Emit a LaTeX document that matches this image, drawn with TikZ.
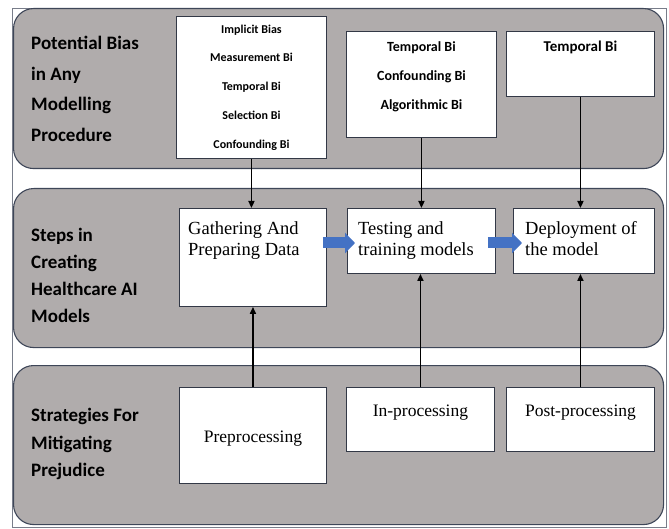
\documentclass[tikz,border=0pt]{standalone}
\usepackage{fontspec}
\setmainfont{Liberation Serif}
\newfontfamily\calibri{Carlito}
\usepackage{tikz}
\usetikzlibrary{arrows.meta, positioning, calc}
\usepackage{xcolor}
\definecolor{bandgray}{RGB}{176,172,172}
\definecolor{edgeblue}{RGB}{62,70,88}
\definecolor{flowblue}{RGB}{68,114,196}

\begin{document}
\begin{tikzpicture}[x=1pt, y=-1pt,
            band/.style={rectangle, draw=edgeblue, line width=1.1pt, fill=bandgray, rounded corners=20pt, anchor=north west, minimum width=650pt},
            bandtext/.style={anchor=west, align=left, inner sep=0pt, font=\calibri\bfseries\fontsize{19}{27}\selectfont},
            box/.style={rectangle, draw=edgeblue!80!black, line width=0.9pt, fill=white, anchor=north west},
            biastext/.style={align=center, inner sep=0pt, font=\calibri\bfseries},
            steptext/.style={anchor=north west, align=left, inner sep=0pt, font=\fontsize{18.5}{21}\selectfont},
            strattext/.style={inner sep=0pt, font=\fontsize{17.5}{21}\selectfont},
            conn/.style={-{Triangle[length=7pt, width=6pt]}, line width=1.6pt, black},
            flow/.style={-{Triangle[length=10pt, width=20pt]}, line width=11pt, flowblue}]

        \useasboundingbox (0,0) rectangle (669,529);
        \draw[edgeblue!70, line width=0.6pt] (12,8) rectangle (666,527);

        % Bands
        \node[band, minimum height=160pt] (biasband) at (13,8) {};
        \node[band, minimum height=159pt] (stepband) at (13,188) {};
        \node[band, minimum height=159pt] (stratband) at (13,365) {};

        \node[bandtext, font=\calibri\bfseries\fontsize{19}{30.7}\selectfont] (biaslabel) at (31,89) {Potential Bias\\in Any\\Modelling\\Procedure};
        \node[bandtext] (steplabel) at (31,275) {Steps in\\Creating\\Healthcare AI\\Models};
        \node[bandtext, font=\calibri\bfseries\fontsize{19}{27.5}\selectfont] (stratlabel) at (31,444) {Strategies For\\Mitigating\\Prejudice};

        % Potential bias boxes
        \node[box, minimum width=150pt, minimum height=142pt] (bias1) at (176,16) {};
        \node[box, minimum width=150pt, minimum height=106pt] (bias2) at (346,31) {};
        \node[box, minimum width=148pt, minimum height=65pt] (bias3) at (506,31) {};

        \node[biastext, font=\calibri\bfseries\fontsize{12}{28.7}\selectfont] (bias1text) at (bias1.center) {Implicit Bias\\Measurement Bi\\Temporal Bi\\Selection Bi\\Confounding Bi};
        \node[biastext, anchor=north, font=\calibri\bfseries\fontsize{14}{29}\selectfont] (bias2text) at ([yshift=-10pt]bias2.north) {Temporal Bi\\Confounding Bi\\Algorithmic Bi};
        \node[biastext, anchor=north, font=\calibri\bfseries\fontsize{15}{29}\selectfont] (bias3text) at ([yshift=-10pt]bias3.north) {Temporal Bi};

        % Steps boxes
        \node[box, minimum width=147pt, minimum height=98pt] (gather) at (179,208) {};
        \node[box, minimum width=148pt, minimum height=65pt] (train) at (347,208) {};
        \node[box, minimum width=141pt, minimum height=65pt] (deploy) at (513,208) {};

        \node[steptext] (gathertext) at ([shift={(9,13)}]gather.north west) {Gathering And\\Preparing Data};
        \node[steptext] (traintext) at ([shift={(11,13)}]train.north west) {Testing and\\training models};
        \node[steptext] (deploytext) at ([shift={(12,13)}]deploy.north west) {Deployment of\\the model};

        % Strategy boxes
        \node[box, minimum width=147pt, minimum height=96pt] (preproc) at (179,387) {};
        \node[box, minimum width=148pt, minimum height=64pt] (inproc) at (346,387) {};
        \node[box, minimum width=148pt, minimum height=64pt] (postproc) at (506,387) {};

        \node[strattext] (preproctext) at ([yshift=-3pt]preproc.center) {Preprocessing};
        \node[strattext] (inproctext) at ([yshift=-26pt]inproc.north) {In-processing};
        \node[strattext] (postproctext) at ([yshift=-26pt]postproc.north) {Post-processing};

        % Bias to Steps
        \draw[conn] (bias1.south) -- (bias1.south |- gather.north);
        \draw[conn] (bias2.south) -- (bias2.south |- train.north);
        \draw[conn] (bias3.south) -- (bias3.south |- deploy.north);

        % Strategies to Steps
        \draw[conn] (preproc.north) -- (preproc.north |- gather.south);
        \draw[conn] (inproc.north) -- (inproc.north |- train.south);
        \draw[conn] (postproc.north) -- (postproc.north |- deploy.south);

        % Flow between steps
        \draw[flow] ([shift={(-4,35)}]gather.north east) -- ([shift={(8,35)}]train.north west);
        \draw[flow] ([shift={(-8,35)}]train.north east) -- ([shift={(9,35)}]deploy.north west);

    \end{tikzpicture}
\end{document}
